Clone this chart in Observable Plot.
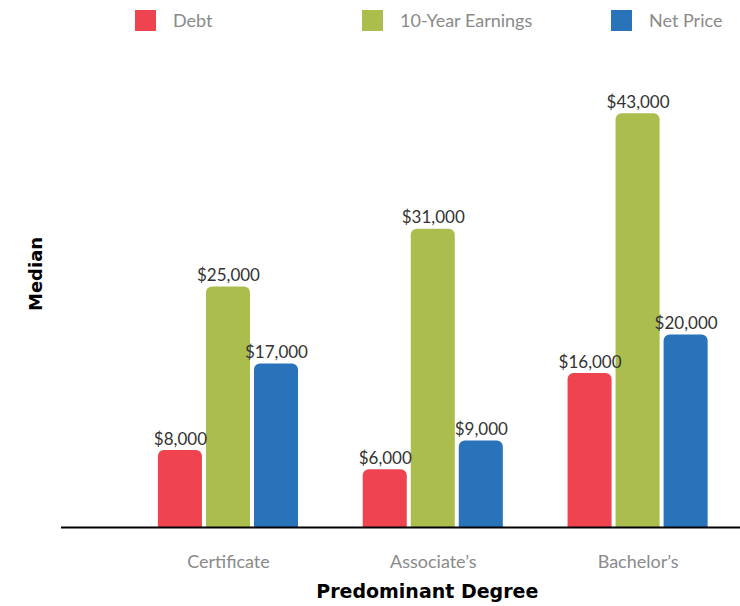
<!DOCTYPE html>
<html><head><meta charset="utf-8">
<script src="https://cdn.jsdelivr.net/npm/d3@7"></script>
<script src="https://cdn.jsdelivr.net/npm/@observablehq/plot@0.6"></script>
<style>
body{margin:0;background:#fff;font-family:Lato, sans-serif;}
#legend{height:40px;position:relative;width:740px;}
.item{position:absolute;top:9px;display:flex;align-items:center;font-size:18px;color:#8a8a8a;line-height:22px;}
.sw{width:21px;height:21px;margin-right:17px;}
</style></head><body>
<div id="legend"></div><div id="chart"></div>
<script>
const degrees = ["Certificate", "Associate’s", "Bachelor’s"];
const series = ["Debt", "10-Year Earnings", "Net Price"];
const debt = [8000, 6000, 16000];
const earnings = [25000, 31000, 43000];
const netPrice = [17000, 9000, 20000];
const colors = ["#ef4450", "#abbd4c", "#2873ba"];

const values = [debt, earnings, netPrice];
const data = degrees.flatMap((d, i) => series.map((s, j) => ({degree: d, series: s, value: values[j][i]})));

// legend
const legendLefts = [135, 362, 611];
const legend = document.getElementById("legend");
series.forEach((s, j) => {
  const it = document.createElement("div");
  it.className = "item";
  it.style.left = legendLefts[j] + "px";
  const sw = document.createElement("span");
  sw.className = "sw";
  sw.style.background = colors[j];
  const t = document.createElement("span");
  t.textContent = s;
  it.append(sw, t);
  legend.append(it);
});

const fmt = d3.format(",");
const chart = Plot.plot({
  width: 740, height: 566,
  marginLeft: 60, marginRight: 0, marginTop: 54, marginBottom: 79,
  style: {fontFamily: "Lato, sans-serif", background: "#fff"},
  fx: {domain: degrees, paddingInner: 0, paddingOuter: 0.16, align: 1, round: false, label: null},
  x: {domain: series, paddingInner: 0.083, paddingOuter: 0.674, round: false, axis: null},
  y: {domain: [0, 45000], axis: null},
  color: {domain: series, range: colors},
  marks: [
    Plot.barY(data, {fx: "degree", x: "series", y: "value", fill: "series", ry1: 6}),
    Plot.text(data, {fx: "degree", x: "series", y: "value", text: d => "$" + fmt(d.value), lineAnchor: "bottom", dy: -6, fill: "#333", fontSize: 17}),
    Plot.axisFx({anchor: "bottom", tickSize: 0, tickPadding: 28, fontSize: 18, color: "#8a8a8a", label: null}),
    Plot.frame({anchor: "bottom", stroke: "#000", strokeWidth: 2, insetLeft: -64, facet: "super"}),
    Plot.text(["Predominant Degree"], {frameAnchor: "bottom", dx: -6, dy: 64, lineAnchor: "middle", fontFamily: "DejaVu Sans", fontSize: 19, fontWeight: "bold", fill: "#000", facet: "super"}),
    Plot.text(["Median"], {frameAnchor: "left", rotate: -90, dx: -90, dy: 0, fontFamily: "DejaVu Sans", fontSize: 18, fontWeight: "bold", fill: "#000", facet: "super"})
  ]
});
document.getElementById("chart").append(chart);
</script>
</body></html>
